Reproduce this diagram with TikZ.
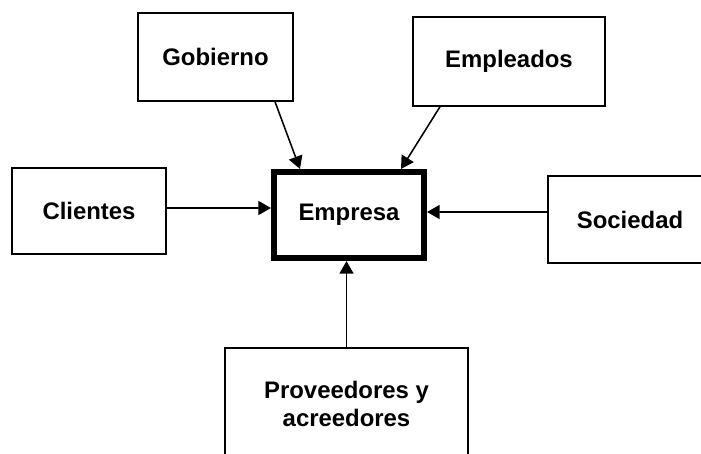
\documentclass[tikz,border=0pt]{standalone}
\usepackage{fontspec}
\setmainfont{Liberation Sans}
\usetikzlibrary{arrows.meta,calc}
\begin{document}
\begin{tikzpicture}[x=0.025cm,y=-0.025cm,
  box/.style={draw=black,line width=1.1pt,rectangle,inner sep=0pt,align=center,
    font=\fontsize{17}{20}\selectfont\bfseries},
  mainbox/.style={box,line width=4.3pt},
  arr/.style={line width=1.1pt,-{Triangle[length=9pt,width=10pt]}}]
\useasboundingbox (0,0) rectangle (701,453);
\clip (0,0) rectangle (701,453);
\node[box,minimum width=3.875cm,minimum height=2.2cm] (gob) at (215.5,57) {Gobierno};
\node[box,minimum width=4.8cm,minimum height=2.225cm] (empl) at (509,61.5) {Empleados};
\node[box,minimum width=3.85cm,minimum height=2.15cm] (cli) at (89,211) {Clientes};
\node[mainbox,minimum width=3.75cm,minimum height=2.15cm] (emp) at (349,215) {Empresa};
\node[box,minimum width=4.1cm,minimum height=2.175cm] (soc) at (630,219.5) {Sociedad};
\node[box,minimum width=6.075cm,minimum height=2.8cm] (prov) at (346.5,404) {Proveedores y\\acreedores};
\draw[arr] ([xshift=1.4875cm]gob.south) -- ([xshift=-1.225cm]emp.north);
\draw[arr] ([xshift=-1.725cm]empl.south) -- ([xshift=1.3cm]emp.north);
\draw[arr] ([yshift=0.075cm]cli.east) -- ([yshift=0.175cm]emp.west);
\draw[arr] ([yshift=0.1875cm]soc.west) -- ([yshift=0.075cm]emp.east);
\draw[arr] (prov.north) -- (prov.north |- emp.south);
\end{tikzpicture}
\end{document}
